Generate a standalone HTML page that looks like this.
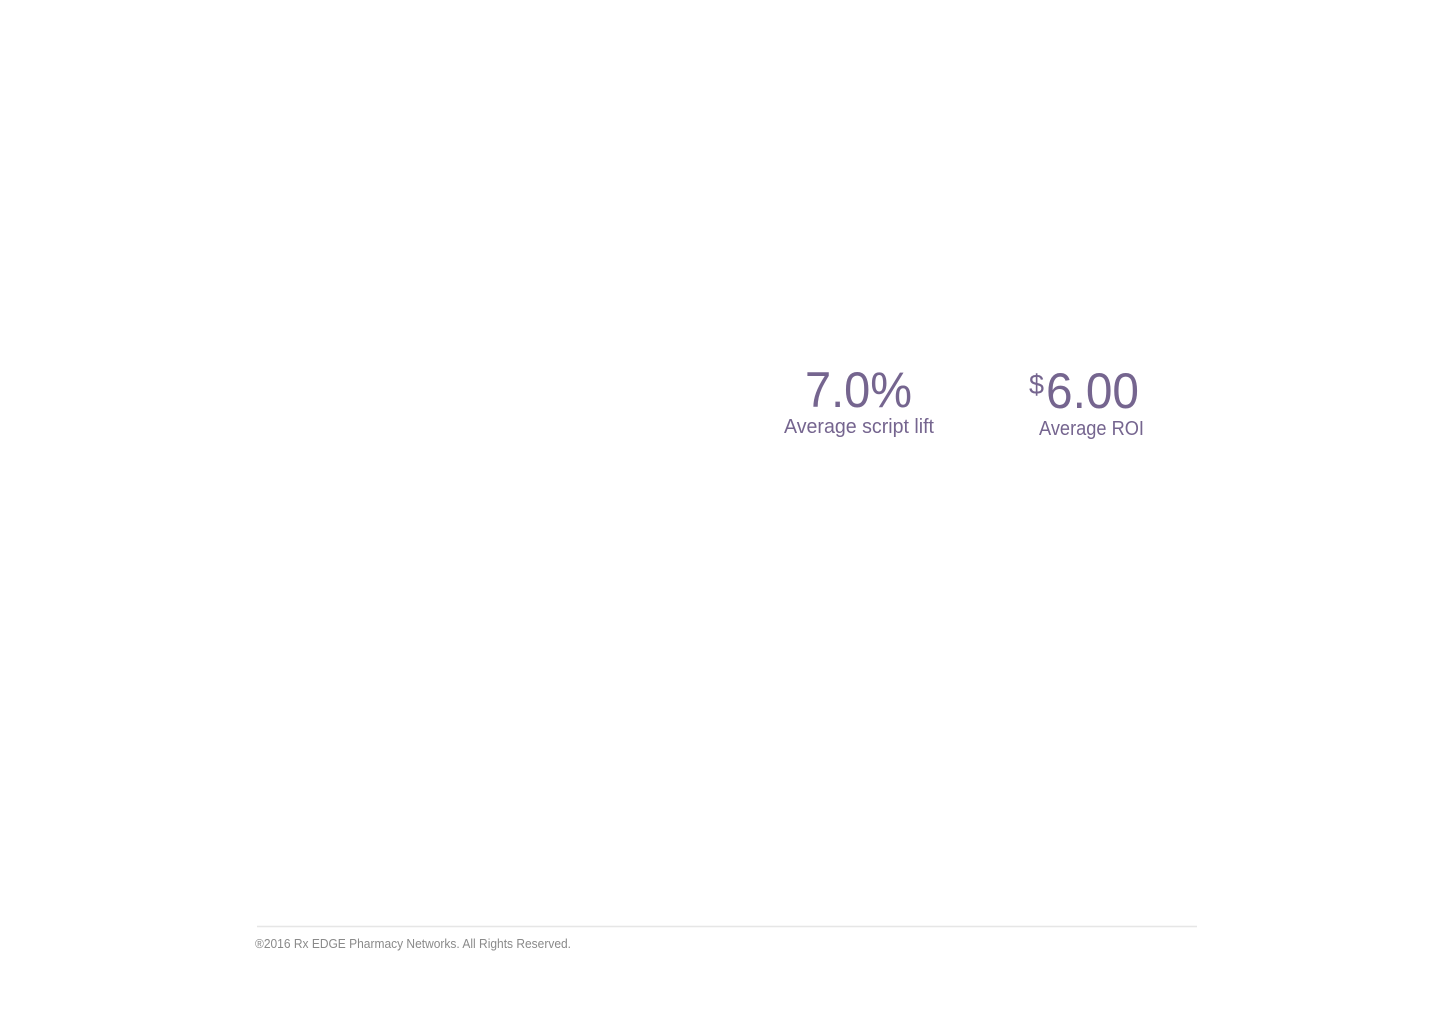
<!DOCTYPE html>
<html>
<head>
<meta charset="utf-8">
<style>
  html,body{margin:0;padding:0;background:#fff;}
  body{width:1456px;height:1012px;overflow:hidden;}
  svg{display:block;}
  text{font-family:"Liberation Sans",sans-serif;}
</style>
</head>
<body>
<svg width="1456" height="1012" viewBox="0 0 1456 1012">
  <g>
    <text x="805" y="407" font-size="50" fill="#75658f" textLength="107" lengthAdjust="spacingAndGlyphs">7.0%</text>
    <text x="784" y="433" font-size="20" fill="#75658f" textLength="150" lengthAdjust="spacingAndGlyphs">Average script lift</text>
  </g>
  <g>
    <text x="1029" y="394" font-size="28" fill="#75658f" textLength="15" lengthAdjust="spacingAndGlyphs">$</text>
    <text x="1046" y="408" font-size="50" fill="#75658f" textLength="93" lengthAdjust="spacingAndGlyphs">6.00</text>
    <text x="1039" y="435" font-size="20" fill="#75658f" textLength="105" lengthAdjust="spacingAndGlyphs">Average ROI</text>
  </g>
  <line x1="257" y1="926.5" x2="1197" y2="926.5" stroke="#e6e6e6" stroke-width="1.5"/>
  <text x="255" y="948" font-size="12.5" fill="#8a8a8a" textLength="316" lengthAdjust="spacingAndGlyphs">®2016 Rx EDGE Pharmacy Networks. All Rights Reserved.</text>
</svg>
</body>
</html>
